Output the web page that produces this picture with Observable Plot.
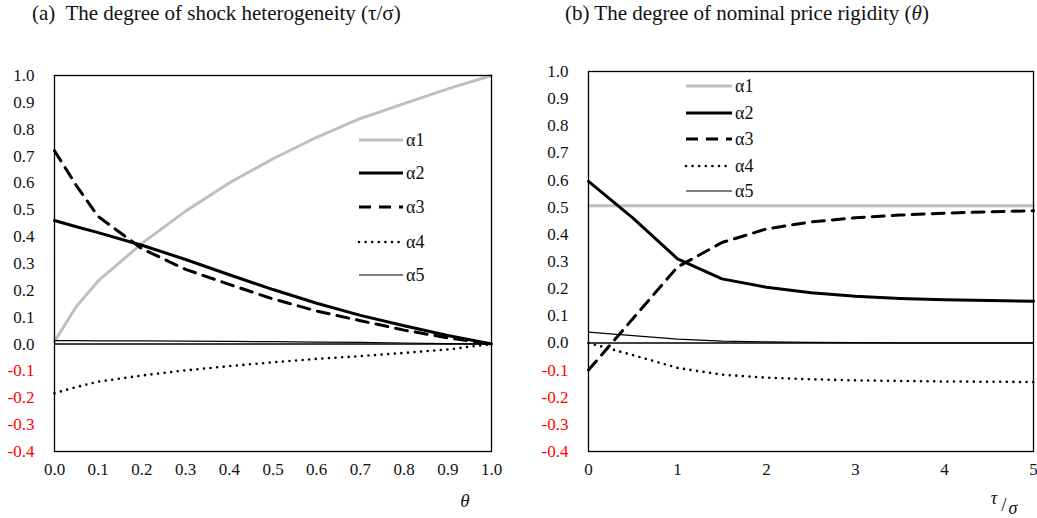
<!DOCTYPE html>
<html><head><meta charset="utf-8">
<script src="https://cdn.jsdelivr.net/npm/d3@7"></script>
<script src="https://cdn.jsdelivr.net/npm/@observablehq/plot@0.6"></script>
<style>
body{margin:0;background:#fff;font-family:"Liberation Serif",serif;}
#wrap{position:relative;width:1037px;height:518px;overflow:hidden;background:#fff}
.abs{position:absolute;white-space:pre;line-height:24px;font-size:21px;color:#111;font-family:"Liberation Serif",serif}
#left,#right{position:absolute;top:0}
#left{left:0}
#right{left:520px}
#ov{position:absolute;left:0;top:0;pointer-events:none}
</style></head><body><div id="wrap">
<div class="abs" style="left:32px;top:1px">(a)  The degree of shock heterogeneity (τ/σ)</div>
<div class="abs" style="left:565px;top:1px">(b) The degree of nominal price rigidity (<i>θ</i>)</div>
<div id="left"></div><div id="right"></div>
</div>
<script>
// ---- Panel (a): x = theta ----
const thetaA = [0, 0.05, 0.1, 0.2, 0.3, 0.4, 0.5, 0.6, 0.7, 0.8, 0.9, 1.0];
const a1A = [0.01, 0.14, 0.235, 0.375, 0.495, 0.6, 0.69, 0.77, 0.84, 0.895, 0.95, 1.0];
const a2A = [0.46, 0.437, 0.415, 0.368, 0.315, 0.258, 0.203, 0.152, 0.107, 0.068, 0.032, 0];
const a3A = [0.72, 0.59, 0.475, 0.355, 0.278, 0.222, 0.168, 0.123, 0.087, 0.052, 0.023, 0];
const a4A = [-0.183, -0.16, -0.14, -0.117, -0.098, -0.082, -0.068, -0.055, -0.045, -0.033, -0.02, 0];
const a5A = [0.013, 0.013, 0.012, 0.012, 0.011, 0.01, 0.009, 0.007, 0.006, 0.004, 0.002, 0];

// ---- Panel (b): x = tau/sigma ----
const tauB = [0, 0.5, 1, 1.5, 2, 2.5, 3, 3.5, 4, 4.5, 5];
const a1B = [0.505, 0.505, 0.505, 0.505, 0.505, 0.505, 0.505, 0.505, 0.505, 0.505, 0.505];
const a2B = [0.595, 0.46, 0.31, 0.236, 0.205, 0.185, 0.172, 0.164, 0.159, 0.156, 0.154];
const a3B = [-0.1, 0.09, 0.28, 0.37, 0.42, 0.446, 0.461, 0.471, 0.478, 0.483, 0.487];
const a4B = [0, -0.045, -0.092, -0.117, -0.128, -0.134, -0.138, -0.14, -0.142, -0.143, -0.144];
const a5B = [0.04, 0.027, 0.014, 0.007, 0.004, 0.002, 0.001, 0, 0, 0, 0];

const seriesNames = ["α1", "α2", "α3", "α4", "α5"];
const yTicks = [-0.4, -0.3, -0.2, -0.1, 0, 0.1, 0.2, 0.3, 0.4, 0.5, 0.6, 0.7, 0.8, 0.9, 1.0];
const xTicksA = [0, 0.1, 0.2, 0.3, 0.4, 0.5, 0.6, 0.7, 0.8, 0.9, 1.0];
const xTicksB = [0, 1, 2, 3, 4, 5];

const FONT = "'Liberation Serif', 'Times New Roman', serif";
const styles = {
  "α1": {stroke: "#bfbfbf", strokeWidth: 3},
  "α2": {stroke: "#000", strokeWidth: 3},
  "α3": {stroke: "#000", strokeWidth: 3, strokeDasharray: "12,8"},
  "α4": {stroke: "#000", strokeWidth: 2.6, strokeDasharray: "0,6.6", strokeLinecap: "round"},
  "α5": {stroke: "#000", strokeWidth: 1.2}
};

function rows(xs, ys) { return xs.map((x, i) => ({x, y: ys[i]})); }

function panel(xs, seriesVals, opts) {
  const txt = {fontFamily: FONT, fontSize: 17};
  const marks = [
    Plot.ruleY([0], {stroke: "#000", strokeWidth: 1.4}),
    ...seriesNames.map((s, k) => Plot.line(rows(xs, seriesVals[k]), {x: "x", y: "y", ...styles[s]})),
    Plot.frame({stroke: "#000", strokeWidth: 1.3}),
    Plot.axisY(yTicks.filter(d => d >= 0), {tickSize: 0, tickPadding: 20, tickFormat: d => d.toFixed(1), fill: "#111", ...txt}),
    Plot.axisY(yTicks.filter(d => d < 0), {tickSize: 0, tickPadding: 20, tickFormat: d => d.toFixed(1), fill: "#ff0000", ...txt}),
    Plot.axisX(opts.xTicks, {tickSize: 0, tickPadding: 11, tickFormat: opts.fmt, fill: "#111", ...txt})
  ];
  return Plot.plot({
    width: opts.width, height: 518,
    marginLeft: opts.ml, marginRight: opts.mr, marginTop: opts.mt, marginBottom: 67,
    x: {domain: opts.xDomain, label: null},
    y: {domain: [-0.4, 1.0], label: null},
    style: {fontFamily: FONT, fontSize: "17px", background: "transparent", overflow: "visible"},
    marks
  });
}

document.getElementById("left").append(panel(thetaA, [a1A, a2A, a3A, a4A, a5A],
  {width: 520, ml: 54, mr: 29, mt: 75, xDomain: [0, 1], xTicks: xTicksA, fmt: d => d.toFixed(1)}));
document.getElementById("right").append(panel(tauB, [a1B, a2B, a3B, a4B, a5B],
  {width: 517, ml: 68, mr: 4, mt: 71, xDomain: [0, 5], xTicks: xTicksB, fmt: d => String(d)}));

// ---- Legends and axis labels overlay ----
const ov = d3.select("#wrap").append("svg").attr("id", "ov").attr("width", 1037).attr("height", 518)
  .style("font-family", FONT);
function legend(x0, x1, ys) {
  seriesNames.forEach((s, i) => {
    const st = styles[s];
    ov.append("line").attr("x1", x0).attr("x2", x1).attr("y1", ys[i]).attr("y2", ys[i])
      .attr("stroke", st.stroke).attr("stroke-width", st.strokeWidth)
      .attr("stroke-dasharray", st.strokeDasharray || null)
      .attr("stroke-linecap", st.strokeLinecap || null);
    ov.append("text").attr("x", x1 + 3).attr("y", ys[i]).attr("dy", "0.35em")
      .attr("font-family", FONT).attr("font-size", 18).attr("fill", "#111").text(s);
  });
}
legend(359, 403, [140, 173, 207, 242, 275]);
legend(686, 732, [86, 113, 139, 166, 191]);

ov.append("text").attr("x", 465).attr("y", 507).attr("text-anchor", "middle").attr("font-family", FONT)
  .attr("font-size", 19).attr("font-style", "italic").attr("fill", "#111").text("θ");
ov.append("text").attr("x", 994).attr("y", 504).attr("text-anchor", "middle").attr("font-family", FONT)
  .attr("font-size", 18).attr("font-style", "italic").attr("fill", "#111").text("τ");
ov.append("text").attr("x", 1004).attr("y", 511).attr("text-anchor", "middle").attr("font-family", FONT)
  .attr("font-size", 19).attr("fill", "#111").text("/");
ov.append("text").attr("x", 1013).attr("y", 514).attr("text-anchor", "middle").attr("font-family", FONT)
  .attr("font-size", 18).attr("font-style", "italic").attr("fill", "#111").text("σ");
</script>
</body></html>
